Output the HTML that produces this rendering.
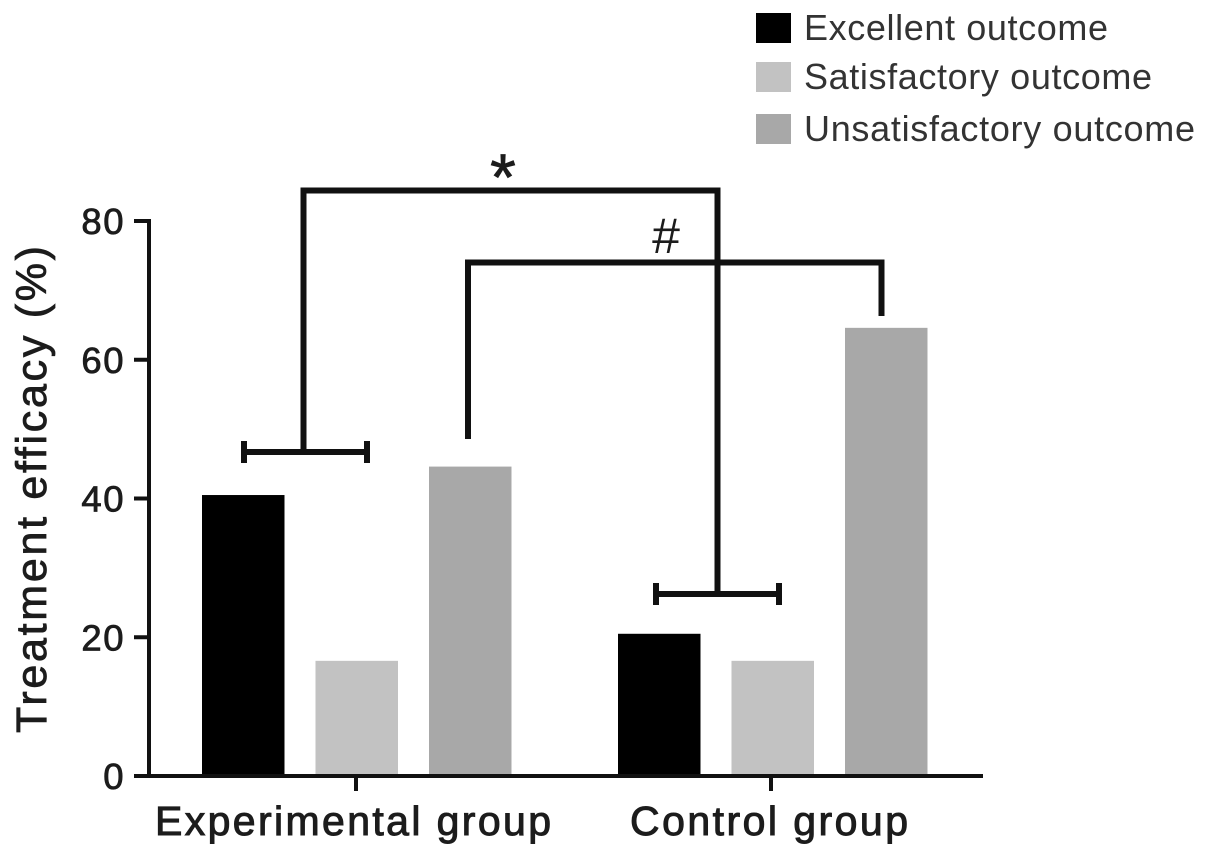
<!DOCTYPE html>
<html lang="en">
<head>
<meta charset="utf-8">
<title>Treatment efficacy chart</title>
<style>
html,body{margin:0;padding:0;background:#fff;}
svg{display:block;}
text{font-family:"Liberation Sans",Arial,sans-serif;fill:#1c1c1c;}
</style>
</head>
<body>
<svg id="chart" xmlns="http://www.w3.org/2000/svg" width="1205" height="856" viewBox="0 0 1205 856"></svg>
<script>
const groups = ["Experimental group", "Control group"];
const seriesNames = ["Excellent outcome", "Satisfactory outcome", "Unsatisfactory outcome"];
const excellentValues = [40.5, 20.5];
const satisfactoryValues = [16.6, 16.6];
const unsatisfactoryValues = [44.6, 64.6];
const yTicks = [0, 20, 40, 60, 80];
const seriesColors = ["#000000", "#c2c2c2", "#a8a8a8"];

const svg = document.getElementById('chart');
const NS = 'http://www.w3.org/2000/svg';
const yScale = v => 776 - v * (555 / 80);
const groupLeft = i => 202 + i * 416;
const barX = (g, s) => groupLeft(g) + s * 113.5;
const barW = 82.5;
const allSeries = [excellentValues, satisfactoryValues, unsatisfactoryValues];

function make(tag, attrs, text) {
  const el = document.createElementNS(NS, tag);
  for (const k in attrs) el.setAttribute(k, attrs[k]);
  if (text !== undefined) el.textContent = text;
  svg.appendChild(el);
  return el;
}
function line(x1, y1, x2, y2, w, name) {
  const el = make('line', {x1, y1, x2, y2, stroke: '#111', 'stroke-width': w});
  
  
  return el;
}

// bars
allSeries.forEach((vals, s) => {
  vals.forEach((v, g) => {
    const r = make('rect', {x: barX(g, s), y: yScale(v), width: barW, height: yScale(0) - yScale(v), fill: seriesColors[s]});
    
    
  });
});

// axes
line(149, yScale(80) - 2, 149, yScale(0) + 2, 4, 'y-axis-line');
line(148, yScale(0), 983, yScale(0), 4, 'x-axis-line');

yTicks.forEach(t => {
  line(134, yScale(t), 149, yScale(t), 4, 'y-tick-' + t);
  const lab = make('text', {x: 125, y: yScale(t) + 13, 'font-size': 36.5, 'text-anchor': 'end', 'letter-spacing': 1.5, stroke: '#1c1c1c', 'stroke-width': 0.8}, String(t));
  
  
});

groups.forEach((g, i) => {
  const cx = i === 0 ? 356 : 771;
  line(cx, yScale(0), cx, 791, 4, 'x-tick-' + i);
  const lab = make('text', {x: i === 0 ? 155 : 630, y: 835, 'font-size': 41, textLength: i === 0 ? 396 : 278, lengthAdjust: 'spacing', stroke: '#1c1c1c', 'stroke-width': 1}, g);
  
  
});

const yTitle = make('text', {x: 0, y: 0, transform: 'translate(46,733) rotate(-90)', 'font-size': 43, textLength: 487, lengthAdjust: 'spacing', stroke: '#1c1c1c', 'stroke-width': 0.8}, 'Treatment efficacy (%)');



// significance brackets
const expBracketY = 452, ctlBracketY = 594;
line(244, expBracketY, 367, expBracketY, 6, 'bracket-experimental-bar');
line(244, expBracketY - 11, 244, expBracketY + 11, 6, 'bracket-experimental-left-cap');
line(367, expBracketY - 11, 367, expBracketY + 11, 6, 'bracket-experimental-right-cap');
line(656, ctlBracketY, 779, ctlBracketY, 6, 'bracket-control-bar');
line(656, ctlBracketY - 11, 656, ctlBracketY + 11, 6, 'bracket-control-left-cap');
line(779, ctlBracketY - 11, 779, ctlBracketY + 11, 6, 'bracket-control-right-cap');

const star = make('path', {d: 'M303.5 452 V190.5 H717.5 V594', fill: 'none', stroke: '#111', 'stroke-width': 6});


const hash = make('path', {d: 'M468 439 V262.5 H881.5 V316', fill: 'none', stroke: '#111', 'stroke-width': 6});



const starText = make('text', {x: 503, y: 200, 'font-size': 66, 'text-anchor': 'middle', stroke: '#1c1c1c', 'stroke-width': 0.8}, '*');


const hashText = make('text', {x: 666, y: 253, 'font-size': 50, 'text-anchor': 'middle'}, '#');



// legend
const legendY = [13, 62, 114];
const legendWidths = [304, 348, 391];
seriesNames.forEach((n, i) => {
  const sw = make('rect', {x: 756, y: legendY[i], width: 35, height: 30, fill: seriesColors[i]});
  
  
  const lab = make('text', {x: 804, y: legendY[i] + 27, 'font-size': 36, textLength: legendWidths[i], lengthAdjust: 'spacing', style: 'fill:#333'}, n);
  
  
});
</script>
</body>
</html>
